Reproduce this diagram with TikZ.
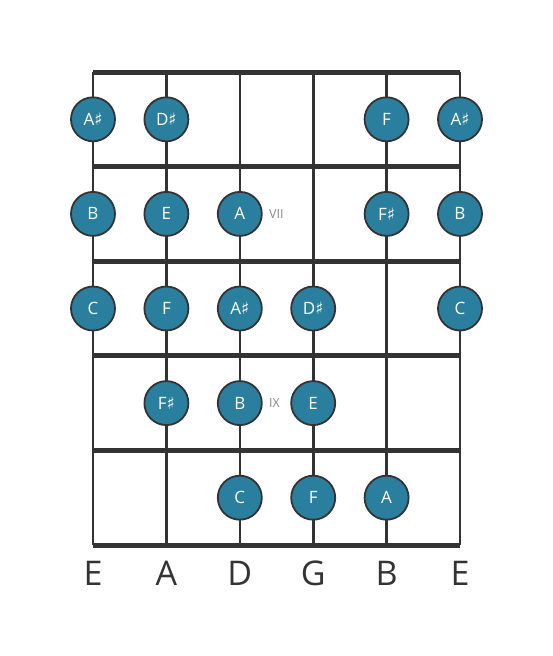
\documentclass[tikz,border=0pt]{standalone}
\usepackage{fontspec}
\setmainfont{Open Sans}
\newfontfamily\symfont{DejaVu Sans}
\usetikzlibrary{positioning}

\definecolor{notefill}{HTML}{2B7F9E}
\definecolor{linedark}{HTML}{333333}
\definecolor{posgray}{HTML}{8A8A8A}
\newcommand{\shp}{{\symfont\char"266F}}

\tikzset{
	note/.style={circle, draw=linedark, line width=1.8pt, fill=notefill, minimum size=44pt, inner sep=0pt, text=white, font=\fontsize{17}{17}\selectfont},
	fretline/.style={linedark, line width=5pt},
	stringline/.style={linedark, line width=2.6pt},
	posmark/.style={text=posgray, font=\fontsize{12.5}{12.5}\selectfont},
	tuning/.style={text=linedark, font=\fontsize{34}{34}\selectfont}
}

\begin{document}
\begin{tikzpicture}[x=1pt,y=-1pt]
	\path[use as bounding box] (0,0) rectangle (553,656);
	% strings
	\foreach \i/\x in {1/93,2/166.4,3/239.8,4/313.2,5/386.6,6/460}{
		\coordinate (s\i) at (\x,0);
		\draw[stringline] (\x,72) -- (\x,545);
	}
	% frets
	\foreach \j/\y in {0/72,1/166.6,2/261.2,3/355.8,4/450.4,5/545}{
		\coordinate (f\j) at (0,\y);
		\draw[fretline] (93,\y) -- (460,\y);
	}
	% note rows
	\foreach \r/\y in {1/119.3,2/213.9,3/308.5,4/403.1,5/497.7}{
		\coordinate (r\r) at (0,\y);
	}
	\coordinate (tl) at (0,573);
	\node[note] (n11) at (s1 |- r1) {A\shp};
	\node[note] (n12) at (s2 |- r1) {D\shp};
	\node[note] (n15) at (s5 |- r1) {F};
	\node[note] (n16) at (s6 |- r1) {A\shp};

	\node[note] (n21) at (s1 |- r2) {B};
	\node[note] (n22) at (s2 |- r2) {E};
	\node[note] (n23) at (s3 |- r2) {A};
	\node[note] (n25) at (s5 |- r2) {F\shp};
	\node[note] (n26) at (s6 |- r2) {B};

	\node[note] (n31) at (s1 |- r3) {C};
	\node[note] (n32) at (s2 |- r3) {F};
	\node[note] (n33) at (s3 |- r3) {A\shp};
	\node[note] (n34) at (s4 |- r3) {D\shp};
	\node[note] (n36) at (s6 |- r3) {C};

	\node[note] (n42) at (s2 |- r4) {F\shp};
	\node[note] (n43) at (s3 |- r4) {B};
	\node[note] (n44) at (s4 |- r4) {E};

	\node[note] (n53) at (s3 |- r5) {C};
	\node[note] (n54) at (s4 |- r5) {F};
	\node[note] (n55) at (s5 |- r5) {A};

	% position markers
	\node[posmark, right=3pt of n23] (vii) {VII};
	\node[posmark, right=3pt of n43] (ix) {IX};

	% tuning
	\foreach \i/\t in {1/E,2/A,3/D,4/G,5/B,6/E}{
		\node[tuning] (t\i) at (s\i |- tl) {\t};
	}
\end{tikzpicture}
\end{document}
